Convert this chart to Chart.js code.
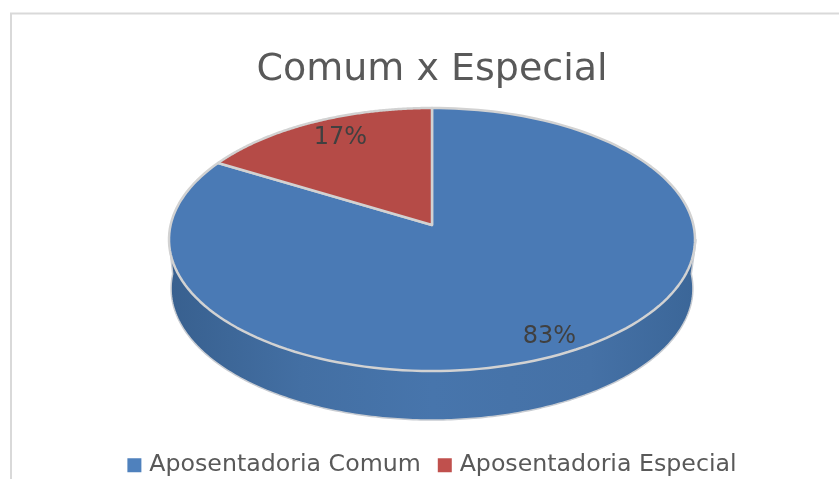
<!DOCTYPE html>
<html><head><meta charset="utf-8">
<style>html,body{margin:0;padding:0;background:#fff;overflow:hidden}canvas{display:block}</style>
<script src="https://cdn.jsdelivr.net/npm/chart.js@4"></script>
</head><body><canvas id="c" width="839" height="479"></canvas>
<script>
const categories = ["Aposentadoria Comum", "Aposentadoria Especial"];
const shares = [83.4, 16.6];
const faceColors = ["#4a7ab5", "#b54b47"];
const legendColors = ["#4f81bd", "#c0504d"];
const chartTitle = "Comum x Especial";

// Perspective of the tilted disc: maps a point of the unit circle to the page.
const CX = 432, CY = 225, A = 261.4, B = 129.9, K = 0.1103, DEPTH = 49;
function project(angle, f, dy, sx) {
  const u = Math.cos(angle) * f, v = Math.sin(angle) * f, w = 1 - K * v;
  return [CX + (sx || 1) * A * u / w, CY + (dy || 0) + B * v / w];
}
Chart.ArcElement.prototype.draw = function (ctx) {
  const s = this.startAngle, e = this.endAngle, o = this.options, n = 160;
  ctx.save();
  ctx.beginPath();
  ctx.moveTo(CX, CY);
  for (let i = 0; i <= n; i++) {
    const p = project(s + (e - s) * i / n, 1);
    ctx.lineTo(p[0], p[1]);
  }
  ctx.closePath();
  ctx.fillStyle = o.backgroundColor;
  ctx.fill();
  ctx.lineJoin = "round";
  ctx.lineWidth = o.borderWidth;
  ctx.strokeStyle = o.borderColor;
  ctx.stroke();
  ctx.restore();
};

const frame = {
  id: "frame",
  beforeDraw(chart) {
    const ctx = chart.ctx;
    ctx.save();
    ctx.strokeStyle = "#d9d9d9";
    ctx.lineWidth = 2;
    ctx.strokeRect(11, 13.5, 900, 600);
    ctx.restore();
  }
};
const wall = {
  id: "wall",
  beforeDatasetsDraw(chart) {
    const ctx = chart.ctx, n = 240;
    const g = ctx.createLinearGradient(170, 0, 695, 0);
    g.addColorStop(0, "#38608f");
    g.addColorStop(0.25, "#436fa3");
    g.addColorStop(0.5, "#4775ac");
    g.addColorStop(0.8, "#4571a6");
    g.addColorStop(1, "#3b6698");
    ctx.save();
    ctx.beginPath();
    // right side of the rim, down around the lower rim, up the left side
    for (let i = 0; i <= n; i++) {
      const p = project(Math.PI * i / n, 1, DEPTH, 0.992);
      if (i === 0) ctx.moveTo(696, 240);
      ctx.lineTo(p[0], p[1]);
    }
    ctx.lineTo(169, 240);
    ctx.closePath();
    ctx.fillStyle = g;
    ctx.fill();
    ctx.strokeStyle = "#c8ccd2";
    ctx.lineWidth = 1.5;
    ctx.stroke();
    ctx.restore();
  }
};
const labelRadius = [0.83, 0.755], labelShift = [10, -8];
const sliceLabels = {
  id: "sliceLabels",
  afterDatasetsDraw(chart) {
    const ctx = chart.ctx, arcs = chart.getDatasetMeta(0).data;
    ctx.save();
    ctx.font = "24px 'DejaVu Sans'";
    ctx.fillStyle = "#404040";
    ctx.textAlign = "center";
    ctx.textBaseline = "middle";
    arcs.forEach((a, i) => {
      const p = project((a.startAngle + a.endAngle) / 2, labelRadius[i], labelShift[i]);
      ctx.fillText(Math.round(shares[i]) + "%", p[0], p[1]);
    });
    ctx.restore();
  }
};
const legendNudge = {
  id: "legendNudge",
  afterLayout(chart) {
    chart.legend.left += 2;
    chart.legend.right += 2;
  }
};

new Chart(document.getElementById("c"), {
  type: "pie",
  data: {
    labels: categories,
    datasets: [{ data: shares, backgroundColor: faceColors, borderColor: "#d2d2d2", borderWidth: 2.5 }]
  },
  plugins: [frame, wall, sliceLabels, legendNudge],
  options: {
    responsive: false,
    animation: false,
    devicePixelRatio: 1,
    layout: { padding: { left: 25, top: 47, bottom: -8 } },
    plugins: {
      tooltip: { enabled: false },
      title: {
        display: true, text: chartTitle, color: "#595959",
        font: { family: "'DejaVu Sans'", size: 38, weight: "normal" },
        padding: { top: 0, bottom: 10 }
      },
      legend: {
        position: "bottom",
        labels: {
          color: "#595959",
          font: { family: "'DejaVu Sans'", size: 23.7 },
          boxWidth: 6, boxHeight: 6, padding: 21,
          generateLabels(chart) {
            return Chart.overrides.pie.plugins.legend.labels.generateLabels(chart).map((l, i) => ({
              ...l, fillStyle: legendColors[i], strokeStyle: legendColors[i], lineWidth: 8
            }));
          }
        }
      }
    }
  }
});
</script></body></html>
